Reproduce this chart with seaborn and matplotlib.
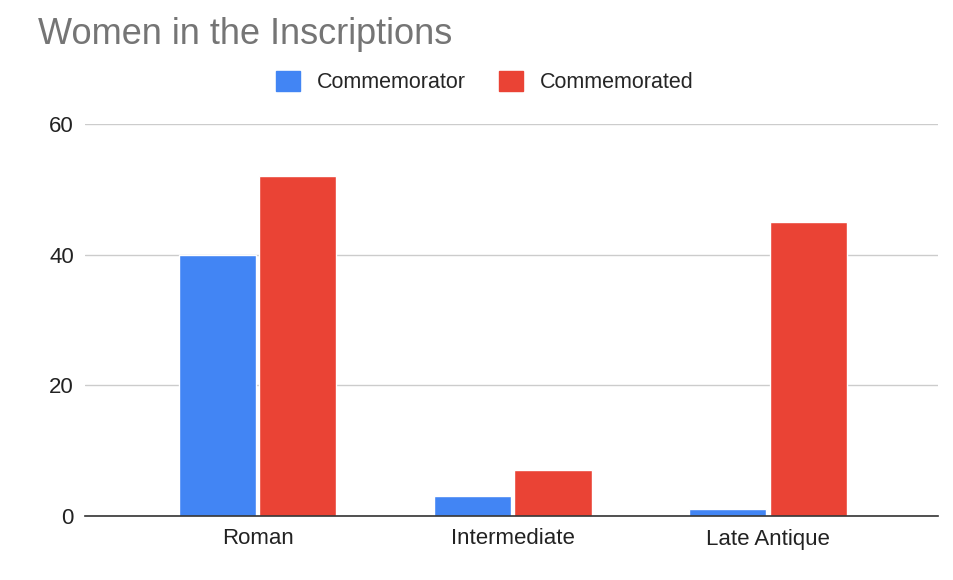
import matplotlib
matplotlib.use("Agg")
import matplotlib.pyplot as plt
import seaborn as sns
import pandas as pd

periods = ["Roman", "Intermediate", "Late Antique"]
commemorator = [40, 3, 1]
commemorated = [52, 7, 45]
series_names = ["Commemorator", "Commemorated"]
colors = ["#4285F4", "#EA4335"]

df = pd.DataFrame({
    "Period": periods * 2,
    "Count": commemorator + commemorated,
    "Role": [series_names[0]] * len(periods) + [series_names[1]] * len(periods),
})

sns.set_theme(style="white")
plt.rcParams["font.family"] = ["Liberation Sans", "DejaVu Sans"]

fig = plt.figure(figsize=(9.54, 5.8), dpi=100)
ax = fig.add_axes([85 / 954, 1 - 516 / 580, (938 - 85) / 954, (516 - 124) / 580])

sns.barplot(data=df, x="Period", y="Count", hue="Role", palette=colors,
            width=0.63, gap=0.04, ax=ax, legend=False, saturation=1)

ax.set_ylim(0, 60)
ax.set_xlim(-0.676, 2.666)
ax.set_yticks([0, 20, 40, 60])
ax.yaxis.grid(True, color="#cccccc", linewidth=1)
ax.set_axisbelow(True)
for s in ["left", "right", "top"]:
    ax.spines[s].set_visible(False)
ax.spines["bottom"].set_color("#333333")
ax.spines["bottom"].set_linewidth(1.2)
ax.set_xlabel("")
ax.set_ylabel("")
ax.tick_params(axis="both", length=0, labelsize=16, colors="#222222")
ax.tick_params(axis="y", pad=8)
ax.tick_params(axis="x", pad=9)

fig.text(38 / 954, 1 - 34 / 580, "Women in the Inscriptions", fontsize=26,
         color="#757575", va="center", ha="left")

handles = [plt.Rectangle((0, 0), 1, 1, color=c) for c in colors]
fig.legend(handles, series_names, loc="center", bbox_to_anchor=(485 / 954, 1 - 82 / 580),
           ncol=2, frameon=False, fontsize=15.5, handlelength=1.1, handleheight=1.1,
           columnspacing=1.55, handletextpad=0.8)

fig.savefig("out.png", dpi=100)
